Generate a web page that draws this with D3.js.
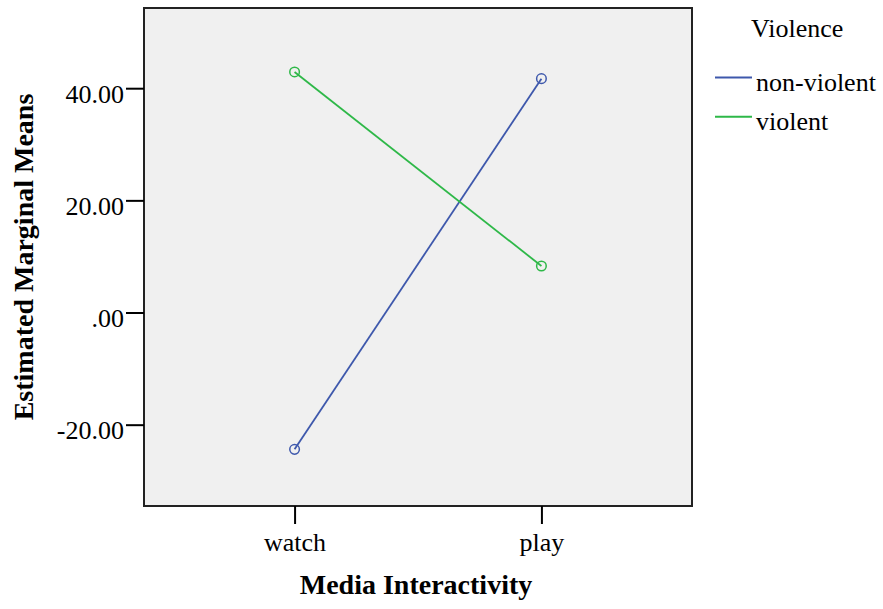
<!DOCTYPE html>
<html>
<head>
<meta charset="utf-8">
<script src="https://cdn.jsdelivr.net/npm/d3@7"></script>
<style>
  html, body { margin: 0; padding: 0; background: #fff; }
  svg { display: block; }
</style>
</head>
<body>
<svg id="chart" width="883" height="609"></svg>
<script>
const categories = ["watch", "play"];
const seriesNames = ["non-violent", "violent"];
const nonViolent = [-24.4, 41.7];
const violent = [42.9, 8.3];
const yTicks = [-20, 0, 20, 40];
const yTickLabels = ["-20.00", ".00", "20.00", "40.00"];
const colors = ["#3E58AC", "#2EB848"];

const svg = d3.select("#chart");
const font = "'Liberation Serif','Times New Roman',serif";
const L = 144, R = 692, T = 8, B = 506;

const x = d3.scalePoint().domain(categories).range([L, R]).padding(0.61);
const y = d3.scaleLinear().domain([-34.5, 54.3]).range([B, T]);

svg.append("rect").attr("x", L).attr("y", T).attr("width", R - L).attr("height", B - T)
  .attr("fill", "#F0F0F0").attr("stroke", "#222").attr("stroke-width", 2);

// Y axis
const yAxis = d3.axisLeft(y).tickValues(yTicks)
  .tickFormat((d, i) => yTickLabels[yTicks.indexOf(d)]).tickSize(18).tickPadding(2);
const gy = svg.append("g").attr("transform", `translate(${L},0)`).call(yAxis);
gy.select(".domain").remove();
gy.selectAll(".tick line").attr("stroke", "#000").attr("stroke-width", 2);
gy.selectAll(".tick text").attr("font-family", font).attr("font-size", 26).attr("fill", "#000")
  .attr("dy", "0.55em");

// X axis
const xAxis = d3.axisBottom(x).tickSize(18).tickPadding(9);
const gx = svg.append("g").attr("transform", `translate(0,${B})`).call(xAxis);
gx.select(".domain").remove();
gx.selectAll(".tick line").attr("stroke", "#000").attr("stroke-width", 2);
gx.selectAll(".tick text").attr("font-family", font).attr("font-size", 26).attr("fill", "#000")
  .attr("dy", "0.71em");

// Series
const series = [nonViolent, violent];
const line = d3.line().x((d, i) => x(categories[i])).y(d => y(d));
series.forEach((vals, si) => {
  svg.append("path").datum(vals).attr("d", line).attr("fill", "none")
    .attr("stroke", colors[si]).attr("stroke-width", 1.8);
  svg.selectAll(null).data(vals).enter().append("circle")
    .attr("cx", (d, i) => x(categories[i])).attr("cy", d => y(d)).attr("r", 4.8)
    .attr("fill", "none").attr("stroke", colors[si]).attr("stroke-width", 1.5);
});

// Axis titles
svg.append("text").attr("x", 416).attr("y", 594).attr("text-anchor", "middle")
  .attr("font-family", font).attr("font-weight", "bold").attr("font-size", 28).text("Media Interactivity");
svg.append("text").attr("transform", `translate(33,257) rotate(-90)`).attr("text-anchor", "middle")
  .attr("font-family", font).attr("font-weight", "bold").attr("font-size", 28).text("Estimated Marginal Means");

// Legend
svg.append("text").attr("x", 751).attr("y", 37).attr("font-family", font).attr("font-size", 26)
  .text("Violence");
seriesNames.forEach((name, i) => {
  const ly = 77.5 + i * 39.3;
  svg.append("line").attr("x1", 715).attr("x2", 752).attr("y1", ly).attr("y2", ly)
    .attr("stroke", colors[i]).attr("stroke-width", 2);
  svg.append("text").attr("x", 756).attr("y", ly + 13).attr("font-family", font).attr("font-size", 26)
    .text(name);
});
</script>
</body>
</html>
